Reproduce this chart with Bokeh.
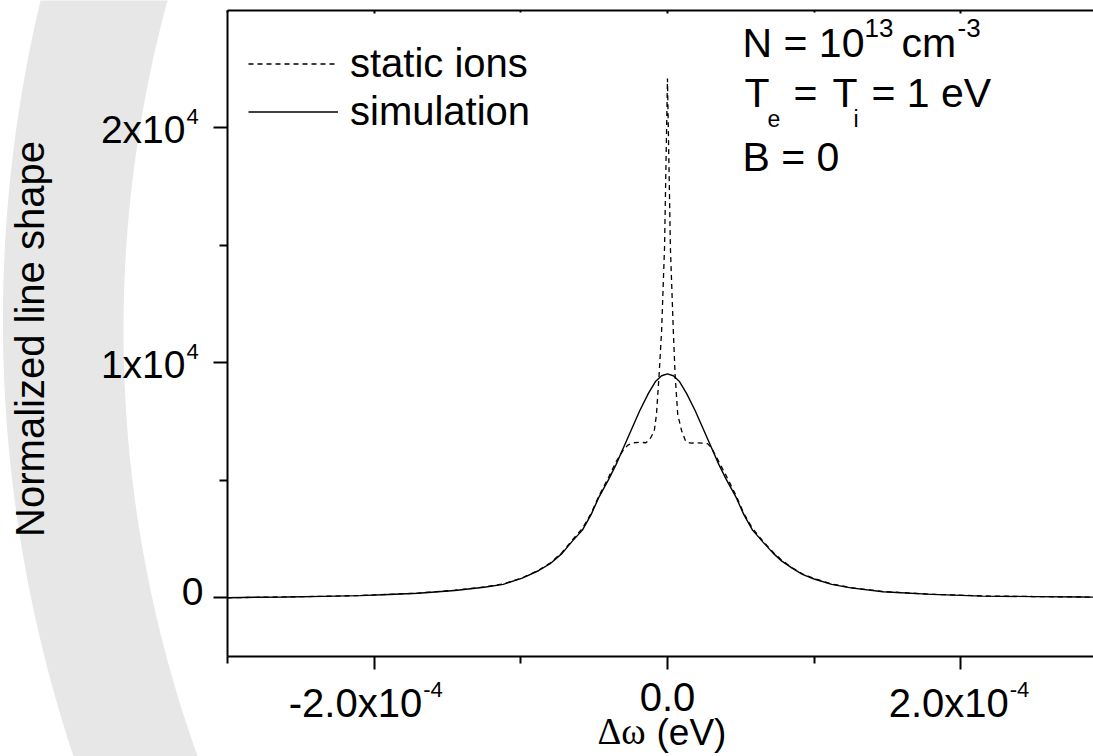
import numpy as np
from bokeh.plotting import figure
from bokeh.models import (Range1d, LinearAxis, FixedTicker, Label, PolyAnnotation,
                          Legend, LegendItem, ColumnDataSource)
from bokeh.embed import file_html
from bokeh.resources import INLINE

# ---------------- data ----------------
x_ticks_major = [-2e-4, 0.0, 2e-4]
x_ticks_minor = [-3e-4, -1e-4, 1e-4, 3e-4]
x_tick_base = ["-2.0x10", "0.0", "2.0x10"]
x_tick_sup = ["-4", "", "-4"]

y_ticks_major = [0, 10000, 20000]
y_ticks_minor = [5000, 15000]
y_tick_base = ["0", "1x10", "2x10"]
y_tick_sup = ["", "4", "4"]

# Delta omega in units of 1e-4 eV
sim_x = [-3.00, -2.80, -2.60, -2.35, -2.10, -1.90, -1.70, -1.45, -1.25, -1.12,
         -0.99, -0.88, -0.80, -0.72, -0.65, -0.58, -0.52, -0.47, -0.40, -0.35,
         -0.28, -0.19, -0.13, -0.08, -0.04, 0.00, 0.04, 0.08, 0.13, 0.19,
         0.28, 0.35, 0.40, 0.47, 0.52, 0.58, 0.65, 0.72, 0.78, 0.85,
         0.92, 1.00, 1.12, 1.25, 1.47, 1.80, 2.15, 2.50, 2.83, 2.95]
sim_y = [0, 20, 35, 60, 90, 140, 190, 310, 450, 570,
         840, 1150, 1450, 1880, 2400, 2880, 3550, 4250, 5050, 5680,
         6670, 7950, 8700, 9220, 9450, 9530, 9450, 9220, 8700, 7950,
         6670, 5680, 5050, 4250, 3550, 2880, 2380, 1900, 1560, 1260,
         1000, 800, 570, 420, 255, 145, 72, 50, 30, 25]

static_x = [-3.00, -2.80, -2.60, -2.35, -2.10, -1.90, -1.70, -1.45, -1.25, -1.12,
            -0.99, -0.88, -0.80, -0.72, -0.65, -0.58, -0.52, -0.47, -0.40, -0.35,
            -0.30, -0.27, -0.23, -0.19, -0.148, -0.12, -0.09, -0.075, -0.057, -0.04,
            -0.02, 0.00, 0.02, 0.04, 0.052, 0.07, 0.097, 0.125, 0.16, 0.20,
            0.245, 0.273, 0.30, 0.35, 0.40, 0.47, 0.52, 0.58, 0.65, 0.72,
            0.78, 0.85, 0.92, 1.00, 1.12, 1.25, 1.47, 1.80, 2.15, 2.50,
            2.83, 2.95]
static_y = [0, 20, 38, 62, 95, 145, 200, 320, 460, 590,
            850, 1170, 1480, 1920, 2450, 2950, 3600, 4300, 5150, 5800,
            6300, 6500, 6600, 6620, 6600, 6750, 7100, 7800, 9500, 11350,
            14900, 22100, 14900, 11350, 9500, 7800, 7100, 6650, 6580, 6600,
            6580, 6560, 6380, 5800, 5200, 4320, 3600, 2950, 2420, 1940,
            1590, 1280, 1020, 820, 590, 430, 265, 150, 78, 52,
            32, 26]

# ---------------- geometry ----------------
W, H = 1093, 756
FL, FT, FB, FR = 227, 10, 656, 1093      # where the axes box sits (pixels)
X0, X1 = -3e-4, 2.905e-4                 # axis extent
Y0, Y1 = -2500, 25000
KX = (X1 - X0) / (FR - FL)
KY = (Y1 - Y0) / (FB - FT)
XS, XE = X0 - FL * KX, X0 + (W - FL) * KX   # full-canvas ranges
YS, YE = Y0 - (H - FB) * KY, Y1 + FT * KY
MID = 0.38   # distance (in em) between text middle and its baseline


def dx(px):
    return XS + px * KX


def dy(py):
    return YE - py * KY


def px_x(x):
    return (x - XS) / KX


def px_y(y):
    return (YE - y) / KY


p = figure(width=W, height=H, output_backend="svg", toolbar_location=None,
           x_range=Range1d(XS, XE), y_range=Range1d(YS, YE),
           x_axis_location=None, y_axis_location=None,
           min_border_left=0, min_border_right=0, min_border_top=0,
           min_border_bottom=0)
p.outline_line_color = None
p.xgrid.visible = False
p.ygrid.visible = False
p.background_fill_color = "white"
p.border_fill_color = "white"


def make_axis(major, minor, mo, mi, no, ni, loc, bounds):
    ax = LinearAxis(ticker=FixedTicker(ticks=major, minor_ticks=minor),
                    fixed_location=loc, bounds=bounds)
    ax.major_label_overrides = {v: "" for v in major}
    ax.major_label_text_font_size = "0px"
    ax.major_label_standoff = 0
    ax.axis_line_width = 2
    ax.axis_line_color = "black"
    ax.major_tick_line_width = 2
    ax.minor_tick_line_width = 2
    ax.major_tick_line_color = "black"
    ax.minor_tick_line_color = "black"
    ax.major_tick_out = mo
    ax.major_tick_in = mi
    ax.minor_tick_out = no
    ax.minor_tick_in = ni
    return ax


p.add_layout(make_axis(y_ticks_major, y_ticks_minor, 14, 0, 8, 0, X0, (Y0, Y1)), "left")
p.add_layout(make_axis(x_ticks_major, x_ticks_minor, 13, 0, 7, 0, Y0, (X0, XE)), "below")
p.add_layout(make_axis(x_ticks_major, x_ticks_minor, 0, 3, 0, 2, Y1, (X0, XE)), "above")

# decorative grey arc on the left
ys_px = np.linspace(-20, 776, 90)
cx = 1382.5
outer = cx - np.sqrt(1380.1 ** 2 - (ys_px - 320.0) ** 2)
inner = cx - np.sqrt(1259.5 ** 2 - (ys_px - 330.0) ** 2)
poly_px_x = list(outer) + list(inner[::-1])
poly_px_y = list(ys_px) + list(ys_px[::-1])
p.add_layout(PolyAnnotation(xs=[dx(v) for v in poly_px_x], ys=[dy(v) for v in poly_px_y],
                            fill_color="#e6e7e6", fill_alpha=1.0, line_color=None,
                            level="underlay"))

src_static = ColumnDataSource(dict(x=np.array(static_x) * 1e-4, y=static_y))
src_sim = ColumnDataSource(dict(x=np.array(sim_x) * 1e-4, y=sim_y))
r_static = p.line("x", "y", source=src_static, line_color="black", line_width=1.3,
                  line_dash="5 4")
r_sim = p.line("x", "y", source=src_sim, line_color="black", line_width=1.4)

leg = Legend(items=[LegendItem(label="static ions", renderers=[r_static]),
                    LegendItem(label="simulation", renderers=[r_sim])],
             location=(FL + 21, (H - FB) + 522), glyph_width=90, glyph_height=45,
             label_height=45, spacing=3, padding=0, margin=0, label_standoff=12,
             label_text_font="Liberation Sans", label_text_font_size="40px",
             label_text_color="black",
             border_line_alpha=0, background_fill_alpha=0)
p.add_layout(leg)


def lab(text, px, py, size, align="left", font="Liberation Sans", vertical=False):
    """px, py: pixel anchor of the text baseline."""
    if vertical:
        cxp, cyp, ang = px - MID * size, py, np.pi / 2
    else:
        cxp, cyp, ang = px, py - MID * size, 0.0
    p.add_layout(Label(x=dx(cxp), y=dy(cyp), text=text, text_font=font,
                       text_font_size=f"{size}px", text_align=align,
                       text_baseline="middle", angle=ang, text_color="black"))


# tick labels
for v, base, sup in zip(y_ticks_major, y_tick_base, y_tick_sup):
    ty = px_y(v)
    if sup:
        lab(base, 185, ty + 16.5, 39, "right")
        lab(sup, 186, ty - 3.4, 22)
    else:
        lab(base, 203, ty + 9, 39, "right")

for v, base, sup in zip(x_ticks_major, x_tick_base, x_tick_sup):
    tx = px_x(v)
    if sup:
        lab(base, tx + 48, 718, 40, "right")
        lab(sup, tx + 49, 697, 22)
    else:
        lab(base, tx, 712, 40, "center")

# axis titles
lab("Normalized line shape", 45, 338.5, 40, "center", vertical=True)
lab("\u0394\u03c9", 597, 745, 37, font="Liberation Serif")
lab("(eV)", 656, 746, 37)

# parameter block
lab("N = 10", 742, 58, 41)
lab("13", 864, 37, 26)
lab("cm", 901, 58, 41)
lab("-3", 957, 37, 26)
lab("T", 744, 108, 41)
lab("e", 767, 127, 23)
lab("=", 793, 108, 41)
lab("T", 832, 108, 41)
lab("i", 853, 127, 23)
lab("= 1 eV", 871, 108, 41)
lab("B = 0", 742, 172, 41)

open("out.html", "w").write(file_html(p, INLINE))
